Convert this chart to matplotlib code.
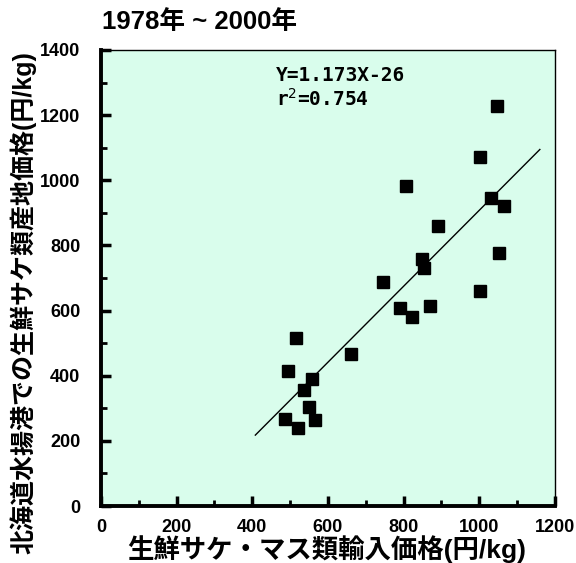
import matplotlib.pyplot as plt
import numpy as np

plt.rcParams['font.family'] = ['Liberation Sans', 'Noto Sans CJK JP', 'DejaVu Sans']

# 1978-2000: import price (x) vs Hokkaido landing price (y), yen/kg
import_price = [1046, 1001, 805, 1032, 1064, 891, 848, 854, 1051, 746, 1001,
                869, 791, 821, 515, 660, 494, 559, 537, 551, 487, 566, 522]
local_price = [1229, 1072, 981, 946, 920, 859, 759, 731, 776, 687, 660,
               614, 609, 580, 516, 467, 416, 390, 356, 305, 266, 265, 240]

# regression line as drawn in the figure
fit_x = [408, 1160]
fit_slope = 1.166
fit_intercept = -258

x_ticks = [0, 200, 400, 600, 800, 1000, 1200]
y_ticks = [0, 200, 400, 600, 800, 1000, 1200, 1400]

fig = plt.figure(figsize=(5.76, 5.63), dpi=100)
ax = fig.add_axes([0.1753, 0.1012, 0.7882, 0.81])
ax.set_facecolor('#d9fdec')

ax.plot(import_price, local_price, 's', color='black', markersize=8.5, zorder=3)
fx = np.array(fit_x)
ax.plot(fx, fit_slope * fx + fit_intercept, color='black', lw=1, zorder=2)

ax.set_xlim(0, 1200)
ax.set_ylim(0, 1400)
ax.set_xticks(x_ticks)
ax.set_yticks(y_ticks)
ax.set_xticks(np.arange(100, 1200, 200), minor=True)
ax.set_yticks(np.arange(100, 1400, 200), minor=True)
ax.tick_params(which='major', direction='in', length=7, width=2.5,
               labelsize=13, top=False, right=False)
ax.tick_params(which='minor', direction='in', length=4, width=2,
               top=False, right=False)
ax.tick_params(axis='x', which='major', pad=9.5)
ax.tick_params(axis='y', which='major', pad=15)
for lab in ax.get_xticklabels() + ax.get_yticklabels():
    lab.set_fontweight('bold')

for side in ['left', 'bottom']:
    ax.spines[side].set_linewidth(2.8)
for side in ['top', 'right']:
    ax.spines[side].set_linewidth(1)

ax.set_xlabel('生鮮サケ・マス類輸入価格(円/kg)', fontsize=19, fontweight='bold')
ax.xaxis.set_label_coords(0.497, -0.063)
ax.set_ylabel('北海道水揚港での生鮮サケ類産地価格(円/kg)', fontsize=18,
              fontweight='bold')
ax.yaxis.set_label_coords(-0.143, 0.447)

fig.text(0.177, 0.961, '1978年 ~ 2000年', fontsize=18.5,
         fontweight='bold', va='center', ha='left')

ax.text(0.385, 0.945, 'Y=1.173X-26', transform=ax.transAxes, fontsize=14,
        fontweight='bold', family='DejaVu Sans Mono', va='center')
ax.text(0.385, 0.893, 'r$^2$=0.754', transform=ax.transAxes, fontsize=14,
        fontweight='bold', family='DejaVu Sans Mono', va='center')

plt.savefig('out.png', dpi=100)
